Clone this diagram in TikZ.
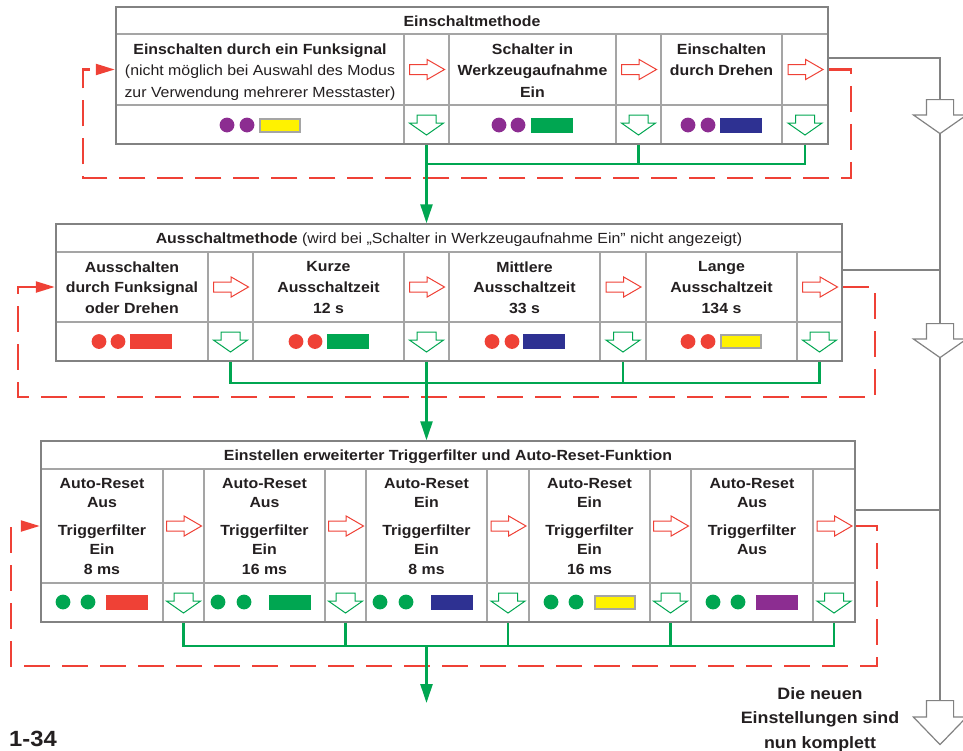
\documentclass[tikz,border=0pt]{standalone}
\usepackage{fontspec}
\setmainfont{Liberation Sans}[FakeStretch=1.08]
\usetikzlibrary{positioning,arrows.meta,shapes.arrows}

\definecolor{ledred}{RGB}{239,65,54}
\definecolor{ledgreen}{RGB}{0,166,81}
\definecolor{ledblue}{RGB}{46,49,146}
\definecolor{ledpurple}{RGB}{140,45,145}
\definecolor{ledyellow}{RGB}{255,242,0}
\definecolor{gridgray}{RGB}{165,165,165}
\definecolor{framegray}{RGB}{130,130,130}
\definecolor{textgray}{RGB}{35,31,32}

\tikzset{
  cell/.style={draw=gridgray, line width=1.5pt, inner sep=0pt},
  frame/.style={draw=framegray, line width=2.5pt, inner sep=0pt},
  txt/.style={inner sep=0pt, align=center, text=textgray, font=\fontsize{14.7}{#1}\selectfont\bfseries},
  txt/.default=21.3,
  nextarrow/.style={single arrow, draw=ledred, fill=white, line width=1pt, inner xsep=0pt, inner ysep=4.5pt, anchor=tail,
    single arrow head extend=5pt, single arrow tip angle=60, minimum height=35pt},
  okarrow/.style={single arrow, draw=ledgreen, fill=white, line width=1pt, rotate=-90, inner xsep=0pt, inner ysep=9pt, anchor=tail,
    single arrow head extend=7.5pt, single arrow tip angle=110, minimum height=20pt},
  railarrow/.style={single arrow, draw=framegray, fill=white, line width=1.2pt, rotate=-90, inner xsep=0pt, inner ysep=13pt, anchor=tail,
    single arrow head extend=13pt, single arrow tip angle=110, minimum height=34pt},
  flow/.style={draw=ledgreen, line width=2.5pt},
  flowtip/.style={flow, -{Triangle[length=19pt,width=12pt]}},
  back/.style={draw=ledred, line width=2.2pt, dash pattern=on 26pt off 12pt, -{Triangle[length=19pt,width=11pt]}},
  rail/.style={draw=framegray, line width=2.4pt},
}

\begin{document}
\begin{tikzpicture}[x=1pt, y=-1pt]
\useasboundingbox (0,0) rectangle (963,750);

% Einschaltmethode
\node[cell, minimum width=712pt, minimum height=27pt] (h1) at (472,20.5) {};
\foreach \i/\l/\r in {1/116/404,2/404/449,3/449/616,4/616/661,5/661/782,6/782/828}{
  \node[cell, minimum width=(\r-\l)*1pt, minimum height=71pt] (c1-\i) at ({(\l+\r)/2},69.5) {};
  \node[cell, minimum width=(\r-\l)*1pt, minimum height=39pt] (p1-\i) at ({(\l+\r)/2},124.5) {};
}
\node[frame, minimum width=712pt, minimum height=137pt] (b1) at (472,75.5) {};

% Ausschaltmethode
\node[cell, minimum width=786pt, minimum height=28pt] (h2) at (449,238) {};
\foreach \i/\l/\r in {1/56/208,2/208/253,3/253/404,4/404/449,5/449/600,6/600/646,7/646/797,8/797/842}{
  \node[cell, minimum width=(\r-\l)*1pt, minimum height=70pt] (c2-\i) at ({(\l+\r)/2},287) {};
  \node[cell, minimum width=(\r-\l)*1pt, minimum height=39pt] (p2-\i) at ({(\l+\r)/2},341.5) {};
}
\node[frame, minimum width=786pt, minimum height=137pt] (b2) at (449,292.5) {};

% Triggerfilter / Auto-Reset
\node[cell, minimum width=814pt, minimum height=28pt] (h3) at (448,455) {};
\foreach \i/\l/\r in {1/41/163,2/163/204,3/204/325,4/325/366,5/366/487,6/487/529,7/529/650,8/650/691,9/691/813,10/813/855}{
  \node[cell, minimum width=(\r-\l)*1pt, minimum height=114pt] (c3-\i) at ({(\l+\r)/2},526) {};
  \node[cell, minimum width=(\r-\l)*1pt, minimum height=39pt] (p3-\i) at ({(\l+\r)/2},602.5) {};
}
\node[frame, minimum width=814pt, minimum height=181pt] (b3) at (448,531.5) {};

% Texte
\node[txt, anchor=base] (l1) at (h1 |- 0,26.5) {Einschaltmethode};
\node[txt, below=10.5pt of c1-1.north] (t1-1) {Einschalten durch ein Funksignal\\
  \mdseries(nicht möglich bei Auswahl des Modus\\ \mdseries zur Verwendung mehrerer Messtaster)};
\node[txt, below=10.5pt of c1-3.north] (t1-3) {Schalter in\\Werkzeugaufnahme\\Ein};
\node[txt, below=10.5pt of c1-5.north] (t1-5) {Einschalten\\durch Drehen};

\node[txt, anchor=base] (l2) at (h2 |- 0,243.5) {Ausschaltmethode \mdseries(wird bei „Schalter in Werkzeugaufnahme Ein” nicht angezeigt)};
\node[txt=20.8, below=10pt of c2-1.north] (t2-1) {Ausschalten\\durch Funksignal\\oder Drehen};
\node[txt=20.8, below=10pt of c2-3.north] (t2-3) {Kurze\\Ausschaltzeit\\12 s};
\node[txt=20.8, below=10pt of c2-5.north] (t2-5) {Mittlere\\Ausschaltzeit\\33 s};
\node[txt=20.8, below=10pt of c2-7.north] (t2-7) {Lange\\Ausschaltzeit\\134 s};

\node[txt, anchor=base] (l3) at (h3 |- 0,460) {Einstellen erweiterter Triggerfilter und Auto-Reset-Funktion};
\node[txt=19.3, below=9.5pt of c3-1.north] (t3-1) {Auto-Reset\\Aus\\[9pt]Triggerfilter\\Ein\\8 ms};
\node[txt=19.3, below=9.5pt of c3-3.north] (t3-3) {Auto-Reset\\Aus\\[9pt]Triggerfilter\\Ein\\16 ms};
\node[txt=19.3, below=9.5pt of c3-5.north] (t3-5) {Auto-Reset\\Ein\\[9pt]Triggerfilter\\Ein\\8 ms};
\node[txt=19.3, below=9.5pt of c3-7.north] (t3-7) {Auto-Reset\\Ein\\[9pt]Triggerfilter\\Ein\\16 ms};
\node[txt=19.3, below=9.5pt of c3-9.north] (t3-9) {Auto-Reset\\Aus\\[9pt]Triggerfilter\\Aus};

% Pfeile in den Zellen
\foreach \i in {2,4,6}{
  \node[nextarrow] (n1-\i) at ([xshift=-17.5pt]c1-\i.center) {};
  \node[okarrow] (k1-\i) at ([yshift=10pt]p1-\i.center) {};
}
\foreach \i in {2,4,6,8}{
  \node[nextarrow] (n2-\i) at ([xshift=-17.5pt]c2-\i.center) {};
  \node[okarrow] (k2-\i) at ([yshift=10pt]p2-\i.center) {};
}
\foreach \i in {2,4,6,8,10}{
  \node[nextarrow] (n3-\i) at ([xshift=-17.5pt]c3-\i.center) {};
  \node[okarrow] (k3-\i) at ([yshift=10pt]p3-\i.center) {};
}

% LED-Anzeigen
\foreach \a/\b/\c/\y/\d/\e/\f in {
  227/247/259/125/ledpurple/ledyellow/gridgray, 499/518/531/125/ledpurple/ledgreen/ledgreen,
  688/708/720/125/ledpurple/ledblue/ledblue,
  99/118/130/341.5/ledred/ledred/ledred, 296/315/327/341.5/ledred/ledgreen/ledgreen,
  492/512/523/341.5/ledred/ledblue/ledblue, 688/708/720/341.5/ledred/ledyellow/gridgray,
  63/88/106/602/ledgreen/ledred/ledred, 218/244/269/602/ledgreen/ledgreen/ledgreen,
  380/406/431/602/ledgreen/ledblue/ledblue, 551/576/594/602/ledgreen/ledyellow/gridgray,
  713/738/756/602/ledgreen/ledpurple/ledpurple}{
  \fill[\d] (\a,\y) circle[radius=7.4pt] (\b,\y) circle[radius=7.4pt];
  \filldraw[fill=\e, draw=\f, line width=2pt] (\c+1,\y-6.5) rectangle (\c+41,\y+6.5);
}

% Ruecksprung
\draw[back] (b1.east |- c1-6) -| (851,178) -| (83,69.5) -- (b1.west |- c1-6);
\draw[back] (b2.east |- c2-8) -| (875,397) -| (18,287) -- (b2.west |- c2-8);
\draw[back] (b3.east |- c3-10) -| (877,666) -| (11,526) -- (b3.west |- c3-10);

% Bestaetigen
\draw[flow] (p1-2.south) -- ++(0,19) coordinate (bus1) -| (p1-6.south);
\draw[flow] (p1-4.south) -- (p1-4.south |- bus1);
\draw[flowtip] (bus1) -- (bus1 |- h2.north);

\draw[flow] (p2-2.south) -- ++(0,21) coordinate (bus2) -| (p2-8.south);
\draw[flow] (p2-4.south) -- (p2-4.south |- bus2);
\draw[flow] (p2-6.south) -- (p2-6.south |- bus2);
\draw[flowtip] (p2-4.south) -- (p2-4.south |- h3.north);

\draw[flow] (p3-2.south) -- ++(0,23) coordinate (bus3) -| (p3-10.south);
\foreach \i in {4,6,8}
  \draw[flow] (p3-\i.south) -- (p3-\i.south |- bus3);
\coordinate (out) at (426.5,703);
\draw[flowtip] (out |- bus3) -- (out);

% Fertig
\coordinate (rail) at (940,58);
\coordinate (railend) at (940,700);
\draw[rail] (b1.east |- rail) -- (rail) -- (railend);
\draw[rail] (b2.east |- 0,270) -- (rail |- 0,270);
\draw[rail] (b3.east |- 0,510) -- (rail |- 0,510);
\node[railarrow] (g1) at (940,99) {};
\node[railarrow] (g2) at (940,323) {};
\node[railarrow, single arrow tip angle=88, minimum height=44pt] (done) at (railend) {};

\node[txt=24.5, font=\fontsize{16.5}{24.5}\selectfont\bfseries, anchor=north] (note) at (820,687)
  {Die neuen\\Einstellungen sind\\nun komplett};
\node[anchor=base west, inner sep=0pt, text=textgray, font=\fontsize{22}{24}\selectfont\bfseries] (page) at (9,746) {1-34};
\end{tikzpicture}
\end{document}
